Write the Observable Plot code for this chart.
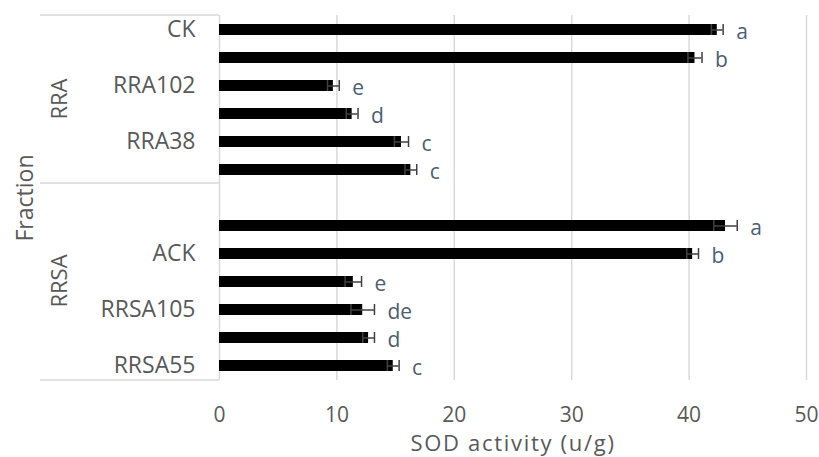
<!DOCTYPE html>
<html>
<head>
<meta charset="utf-8">
<script src="https://cdn.jsdelivr.net/npm/d3@7"></script>
<script src="https://cdn.jsdelivr.net/npm/@observablehq/plot@0.6"></script>
<style>
  html, body { margin: 0; padding: 0; background: #fff; }
  #chart { width: 819px; height: 457px; overflow: hidden; }
  .xtitle text { letter-spacing: 1.7px; }
</style>
</head>
<body>
<div id="chart"></div>
<script>
// Category slots, top to bottom (odd labels are hidden in the reference, slot 6 is an empty spacer)
const tickLabels = ["CK", "", "RRA102", "", "RRA38", "", "", "", "ACK", "", "RRSA105", "", "RRSA55"];
const groups     = ["RRA", "RRA", "RRA", "RRA", "RRA", "RRA", "RRSA", "RRSA", "RRSA", "RRSA", "RRSA", "RRSA", "RRSA"];
const sodValues  = [42.4, 40.5, 9.7, 11.3, 15.5, 16.3, null, 43.1, 40.3, 11.4, 12.2, 12.7, 14.8];
const sodErrors  = [0.5, 0.6, 0.5, 0.5, 0.6, 0.5, null, 1.0, 0.5, 0.7, 1.0, 0.5, 0.5];
const sigLetters = ["a", "b", "e", "d", "c", "c", "", "a", "b", "e", "de", "d", "c"];
const xTicks     = [0, 10, 20, 30, 40, 50];
const groupNames = ["RRA", "RRSA"];

const slots = tickLabels.map((_, i) => i);
const rows = slots
  .filter(i => sodValues[i] != null)
  .map(i => ({i, v: sodValues[i], lo: sodValues[i] - sodErrors[i], hi: sodValues[i] + sodErrors[i], sig: sigLetters[i]}));

const gray = "#595959";
const lineGray = "#d9d9d9";

// Group bracket lines and labels in the left margin, positioned from the y scale
function groupBrackets(index, scales, values, dimensions) {
  const {marginLeft, marginTop, height, marginBottom} = dimensions;
  const y = scales.y;
  const step = y(1) - y(0);
  const g = d3.create("svg:g");
  const x1 = marginLeft - 179, x2 = marginLeft;
  const bounds = [];
  groupNames.forEach(name => {
    const first = groups.indexOf(name);
    const last = groups.lastIndexOf(name);
    bounds.push(marginTop + first * step);
    const mid = marginTop + ((first + last + 1) / 2) * step;
    g.append("text")
      .attr("transform", `translate(${marginLeft - 160},${mid}) rotate(-90)`)
      .attr("text-anchor", "middle")
      .attr("dy", "0.35em")
      .attr("fill", gray)
      .attr("font-size", 22)
      .text(name);
  });
  bounds.push(height - marginBottom);
  bounds.forEach(b => {
    g.append("line")
      .attr("x1", x1).attr("x2", x2)
      .attr("y1", b).attr("y2", b)
      .attr("stroke", lineGray).attr("stroke-width", 1.5);
  });
  return g.node();
}

const chart = Plot.plot({
  width: 819,
  height: 457,
  marginLeft: 219,
  marginRight: 13,
  marginTop: 15,
  marginBottom: 77,
  style: {fontFamily: "'Open Sans', sans-serif", background: "#fff", color: gray},
  x: {domain: [0, 50]},
  y: {type: "band", domain: slots, paddingInner: 0.62, paddingOuter: 0.31},
  marks: [
    Plot.gridX(xTicks, {stroke: lineGray, strokeOpacity: 1, strokeWidth: 1.5}),
    Plot.barX(rows, {x: "v", y: "i", fill: "black"}),
    Plot.ruleY(rows, {y: "i", x1: "lo", x2: "hi", stroke: "#404040", strokeWidth: 1.5}),
    Plot.tickX(rows, {x: "lo", y: "i", stroke: "#404040", strokeWidth: 1.5}),
    Plot.tickX(rows, {x: "hi", y: "i", stroke: "#404040", strokeWidth: 1.5}),
    Plot.text(rows, {x: "hi", y: "i", text: "sig", dx: 13, dy: 2, textAnchor: "start", fill: "#4d5d73", fontSize: 21}),
    Plot.axisX({ticks: xTicks, tickSize: 0, tickPadding: 27, fontSize: 21, label: null, fill: gray}),
    Plot.axisY({tickSize: 0, tickPadding: 24, fontSize: 23, label: null, fill: gray, tickFormat: i => tickLabels[i]}),
    Plot.text(["SOD activity (u/g)"], {frameAnchor: "bottom", dy: 63, lineAnchor: "middle", textAnchor: "middle", fontSize: 22, fill: gray, className: "xtitle"}),
    Plot.text(["Fraction"], {frameAnchor: "left", dx: -194, rotate: -90, textAnchor: "middle", lineAnchor: "middle", fontSize: 23, fill: gray}),
    groupBrackets
  ]
});
document.getElementById("chart").appendChild(chart);
</script>
</body>
</html>
